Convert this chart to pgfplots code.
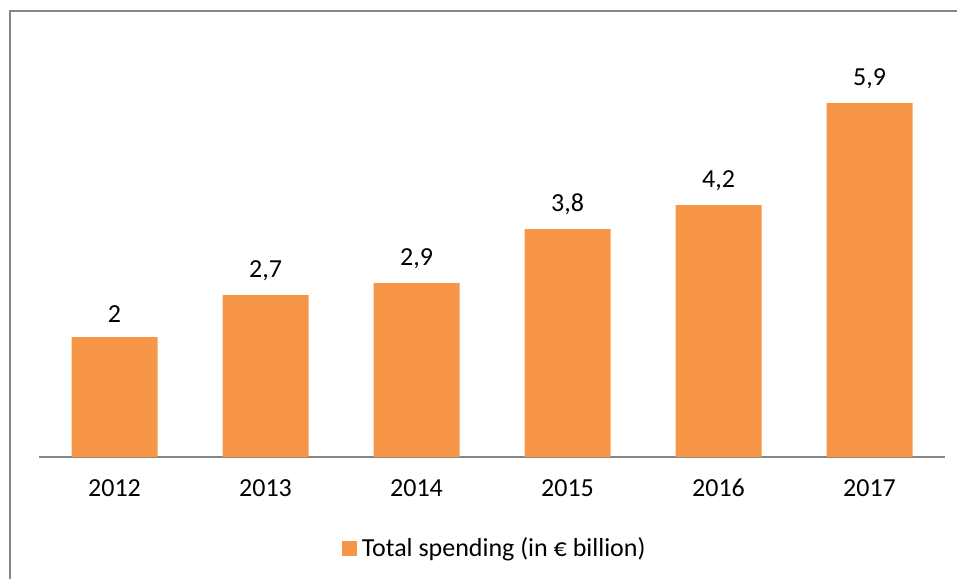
\documentclass[border=0pt]{standalone}
\usepackage{fontspec}
\setmainfont{Carlito}
\usepackage{pgfplots}
\pgfplotsset{compat=1.18}
\definecolor{barorange}{HTML}{F79646}
\definecolor{framegray}{HTML}{868686}
\begin{document}
\begin{tikzpicture}[x=1pt,y=1pt]
\useasboundingbox (0,0) rectangle (957,578);
% chart frame (cut off at right and bottom)
\draw[framegray, line width=2pt] (10,-5) -- (10,567) -- (965,567);
\begin{axis}[
    at={(39pt,121pt)}, anchor=south west,
    scale only axis, width=906pt, height=420pt,
    xmin=-0.5, xmax=5.5, ymin=0, ymax=7,
    axis y line=none, axis x line*=bottom,
    x axis line style={framegray, line width=1.5pt, -},
    xtick=data, xticklabels={2012,2013,2014,2015,2016,2017},
    major tick length=0pt,
    tick label style={font=\fontsize{26}{30}\selectfont},
    xticklabel style={yshift=-19pt, text height=17pt, text depth=0pt},
    /pgf/number format/assume math mode=true,
    ybar, bar width=86pt,
    nodes near coords,
    nodes near coords style={font=\fontsize{26}{30}\selectfont, yshift=11pt,
      /pgf/number format/use comma, /pgf/number format/precision=1},
    legend style={at={(0.503,-0.2167)}, anchor=center, draw=none,
      font=\fontsize{26}{30}\selectfont, inner sep=0pt},
    legend image code/.code={\fill[barorange] (0pt,-7.5pt) rectangle (15pt,7.5pt);},
    legend cell align=left,
]
\addplot[fill=barorange, draw=none] coordinates {
    (0,2) (1,2.7) (2,2.9) (3,3.8) (4,4.2) (5,5.9)};
\addlegendentry{\hspace{3pt}Total spending (in € billion)}
\end{axis}
\end{tikzpicture}
\end{document}
